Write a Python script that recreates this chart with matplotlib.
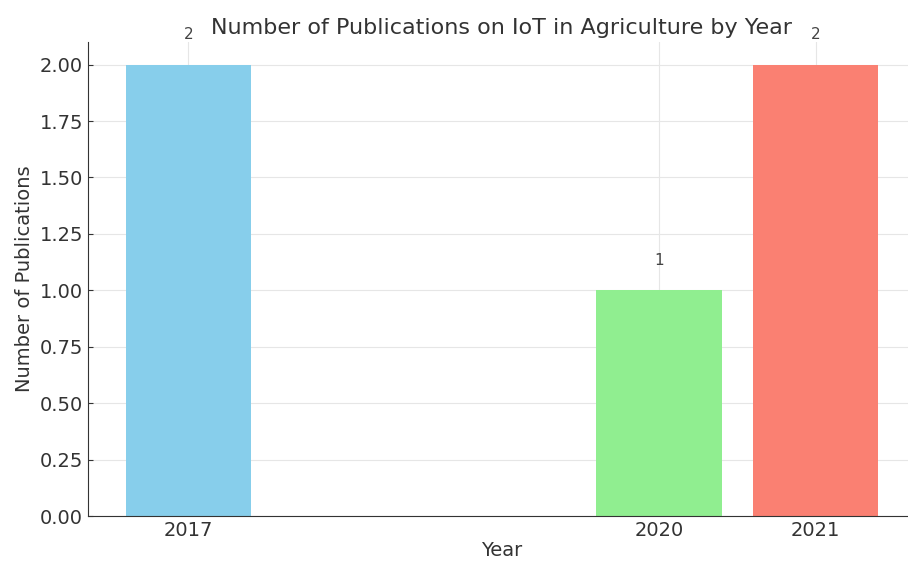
import numpy as np
import matplotlib
matplotlib.use("Agg")
import matplotlib.pyplot as plt

years = [2017, 2020, 2021]
counts = [2, 1, 2]
colors = ["skyblue", "lightgreen", "salmon"]

fig = plt.figure(figsize=(9.08, 5.64), dpi=100)
ax = fig.add_axes([0.0969, 0.0851, 0.9119, 0.8404])

bars = ax.bar(years, counts, color=colors, width=0.8, zorder=2)
for yr, c in zip(years, counts):
    ax.text(yr, c + 0.1, str(c), ha="center", va="bottom", fontsize=11, color="#444444")

ax.set_title("Number of Publications on IoT in Agriculture by Year", fontsize=16, color="#333333")
ax.set_xlabel("Year", fontsize=14, color="#333333", labelpad=1)
ax.set_ylabel("Number of Publications", fontsize=14, color="#333333", labelpad=4)
ax.set_xticks(years)
ax.set_yticks(np.arange(0, 2.01, 0.25))
ax.set_ylim(0, 2.1)
ax.tick_params(labelsize=14, colors="#333333", direction="in")
ax.grid(True, color="#e6e6e6", linewidth=0.8, zorder=0)
ax.spines["top"].set_visible(False)
ax.spines["right"].set_visible(False)
for s in ("left", "bottom"):
    ax.spines[s].set_color("#333333")

fig.savefig("out.png", dpi=100)
